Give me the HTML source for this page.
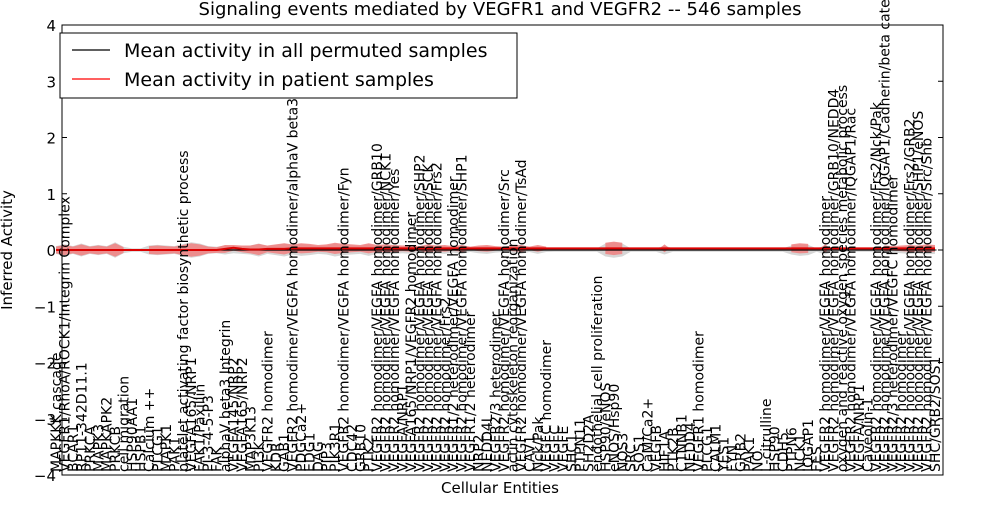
<!DOCTYPE html>
<html><head><meta charset="utf-8"><style>
html,body{margin:0;padding:0;background:#fff;}
svg text{font-family:"DejaVu Sans","Liberation Sans",sans-serif;}
</style></head><body>
<svg id="chart" width="1000" height="500" xmlns="http://www.w3.org/2000/svg">
<rect x="0" y="0" width="1000" height="500" fill="#fff"/>
<text x="500" y="15" font-size="18" text-anchor="middle">Signaling events mediated by VEGFR1 and VEGFR2 -- 546 samples</text>
<g id="bands"></g>
<g id="labels"></g>
<g id="axes"></g>
<text x="500" y="493" font-size="15" text-anchor="middle">Cellular Entities</text>
<text transform="translate(12,250) rotate(-90)" font-size="15" text-anchor="middle">Inferred Activity</text>
<g>
<rect x="60" y="33" width="457" height="65" fill="#fff" stroke="#000" stroke-width="1"/>
<line x1="72" y1="50" x2="110" y2="50" stroke="#000" stroke-width="1.2"/>
<text x="124" y="57" font-size="19">Mean activity in all permuted samples</text>
<line x1="72" y1="79" x2="110" y2="79" stroke="#f00" stroke-width="1.2"/>
<text x="124" y="86" font-size="19">Mean activity in patient samples</text>
</g>
</svg>
<script>
const categories = ["MAPKKK cascade","VEGFR1/RhoA/ROCK1/Integrin Complex","BCAR1","RP11-342D11.1","PRKCA","MAPK3","MAPKAPK2","PRKCB","cell migration","HSP90AA1","HSPB1","Calcium ++","PLCG1","MAPK1","PAK1","platelet activating factor biosynthetic process","VEGFA165/NRP1","FAK1/Paxillin","PI-3-4-5-P3","FAK","alphaV beta3 Integrin","VEGFA145/NRP2","VEGFA165/NRP2","MAP3K13","PI3K","VEGFR2 homodimer","KDR","GAB1","VEGFR2 homodimer/VEGFA homodimer/alphaV beta3","PDGCa2+","EDG1","DAG","PIP3","PIK3R1","VEGFR2 homodimer/VEGFA homodimer/Fyn","CDC42","GRB10","PTK2","VEGFR2 homodimer/VEGFA homodimer/GRB10","VEGFR2 homodimer/VEGFA homodimer/NCK1","VEGFR2 homodimer/VEGFA homodimer/Yes","VEGFA/NRP1","VEGFA165/NRP1/VEGFR2 homodimer","VEGFR2 homodimer/VEGFA homodimer/SHP2","VEGFR2 homodimer/VEGFA homodimer/SCK","VEGFR2 homodimer/VEGFA homodimer/Frs2","VEGFR2 homodimer/Frs2","VEGFR1/2 heterodimer/VEGFA homodimer","VEGFR2 homodimer/VEGFA homodimer/SHP1","VEGFR1/2 heterodimer","NRP2","NEDD4L","VEGFR2/3 heterodimer","VEGFR2 homodimer/VEGFA homodimer/Src","actin cytoskeleton reorganization","VEGFR2 homodimer/VEGFA homodimer/TsAd","CAV1","Nck/Pak","VEGFC homodimer","VEGFC","VEGFE","SHC1","PTPN11","SH2D2A","endothelial cell proliferation","HSP90/eNOS","eNOS/Hsp90","NOS3","SRC","SOS1","CaM/Ca2+","VEGFB","HIF1A","PTK2B","CTNNB1","NEDD4","VEGFR1 homodimer","PLCG1","CALM1","YES1","FYN","GRB2","PAK1","NO","L-citrulline","HSP90","CDH5","PTPN6","NCK1","IQGAP1","FES","VEGFR2 homodimer/VEGFA homodimer","VEGFR2 homodimer/VEGFA homodimer/GRB10/NEDD4","oxygen and reactive oxygen species metabolic process","VEGFR2 homodimer/VEGFA homodimer/IQGAP1/Rac","VEGFA/NRP1","Caveolin-1","VEGFR2 homodimer/VEGFA homodimer/Frs2/Nck/Pak","VEGFR2 homodimer/VEGFA homodimer/IQGAP1/Cadherin/beta catenin","VEGFR2/3 heterodimer/VEGFC homodimer","VEGFR2 homodimer","VEGFR2 homodimer/VEGFA homodimer/Frs2/GRB2","VEGFR2 homodimer/VEGFA homodimer/SHP1/eNOS","VEGFR2 homodimer/VEGFA homodimer/Src/Shb","SHC/GRB2/SOS1"];
const patientMean = [0,0,0,0,0,0,0,0,0,0,0,0,0,0,0,0,0,0,0,0,0.02,0.04,0.02,0.01,0.01,0.02,0.02,0.02,0.03,0.03,0.03,0.03,0.03,0.03,0.03,0.03,0.03,0.03,0.03,0.03,0.03,0.03,0.03,0.03,0.03,0.03,0.03,0.03,0.03,0.03,0.03,0.03,0.03,0.03,0.03,0.03,0.03,0.03,0.03,0.03,0.03,0.03,0.03,0.03,0.03,0.03,0.03,0.03,0.03,0.03,0.03,0.03,0.03,0.03,0.03,0.03,0.03,0.03,0.03,0.03,0.03,0.03,0.03,0.03,0.03,0.03,0.03,0.03,0.03,0.03,0.03,0.03,0.03,0.03,0.03,0.03,0.03,0.03,0.03,0.03,0.03,0.03,0.03,0.03,0.03,0.03,0.04,0.04,0.05,0.05];
const permutedMean = categories.map(()=>0);
const bandWidth = [0.06,0.09,0.06,0.1,0.06,0.08,0.06,0.12,0.05,0,0,0.07,0.08,0.07,0.06,0.09,0.12,0.1,0.06,0.05,0.07,0.05,0.06,0.07,0.1,0.06,0.08,0.1,0.07,0.09,0.08,0.06,0.07,0.1,0.08,0.07,0.06,0.09,0.06,0.07,0.06,0.05,0.06,0.04,0.07,0.05,0.06,0.04,0.06,0.03,0.05,0.06,0.04,0.03,0.05,0.06,0.03,0.06,0.03,0,0,0,0,0,0,0.1,0.12,0.1,0,0,0,0,0.07,0,0,0,0,0,0,0,0,0,0,0,0,0,0,0.07,0.09,0.08,0,0.07,0,0,0,0,0,0,0.05,0.04,0.05,0.06,0.05,0.07,0.06,0.08,0.06,0.05,0.07,0.09,0.08,0.09,0.1,0.1,0.12];
const yTicks = [-4,-3,-2,-1,0,1,2,3,4];

const L=62,R=943,T=25,B=475;
const ns="http://www.w3.org/2000/svg";
function y(v){return T+(4-v)*(B-T)/8;}
function x(i){return 56+i*(935-56)/(categories.length-1);}
function mk(tag,attrs,parent){const e=document.createElementNS(ns,tag);for(const k in attrs)e.setAttribute(k,attrs[k]);parent.appendChild(e);return e;}
const bands=document.getElementById('bands'),labels=document.getElementById('labels'),axes=document.getElementById('axes');
let up=[],dn=[];
categories.forEach((c,i)=>{const w=Math.max(bandWidth[i]*1.15,0.03);up.push(x(i)+','+y(permutedMean[i]+w));dn.unshift(x(i)+','+y(permutedMean[i]-w));});
const g=mk('polygon',{points:up.concat(dn).join(' '),fill:'#ccc',opacity:'0.8'},bands);


let seg=[];
function flush(){if(seg.length>0){let u=[],d=[];seg.forEach(i=>{u.push(x(i)+','+y(patientMean[i]+bandWidth[i]));d.unshift(x(i)+','+y(patientMean[i]-bandWidth[i]));});
if(seg.length===1){const i=seg[0];u=[(x(i)-5)+','+y(patientMean[i]),x(i)+','+y(patientMean[i]+bandWidth[i]),(x(i)+5)+','+y(patientMean[i])];d=[x(i)+','+y(patientMean[i]-bandWidth[i])];}
const p=mk('polygon',{points:u.concat(d).join(' '),fill:'#f08080',opacity:'0.85'},bands);

}seg=[];}
categories.forEach((c,i)=>{if(bandWidth[i]>0)seg.push(i);else flush();});flush();
mk('line',{x1:L,y1:y(0),x2:R,y2:y(0),stroke:'#000','stroke-dasharray':'1.5,3','stroke-width':1},bands);
const pl=mk('polyline',{points:categories.map((c,i)=>x(i)+','+y(permutedMean[i])).join(' '),fill:'none',stroke:'#000','stroke-width':1.2},bands);


const rl=mk('polyline',{points:categories.map((c,i)=>x(i)+','+y(patientMean[i])).join(' '),fill:'none',stroke:'#d00','stroke-width':2},bands);


categories.forEach((c,i)=>{const t=mk('text',{transform:'translate('+(x(i)+5)+',472) rotate(-90)','font-size':'14'},labels);t.textContent=c;

});
const fr=mk('rect',{x:L,y:T,width:R-L,height:B-T,fill:'none',stroke:'#000','stroke-width':1},axes);


yTicks.forEach(v=>{mk('line',{x1:L,y1:y(v),x2:L+5,y2:y(v),stroke:'#000'},axes);mk('line',{x1:R,y1:y(v),x2:R-5,y2:y(v),stroke:'#000'},axes);
const t=mk('text',{x:L-6,y:y(v)+6,'font-size':'15','text-anchor':'end'},axes);t.textContent=(v<0?'\u2212':'')+Math.abs(v);

});
</script>
</body></html>
